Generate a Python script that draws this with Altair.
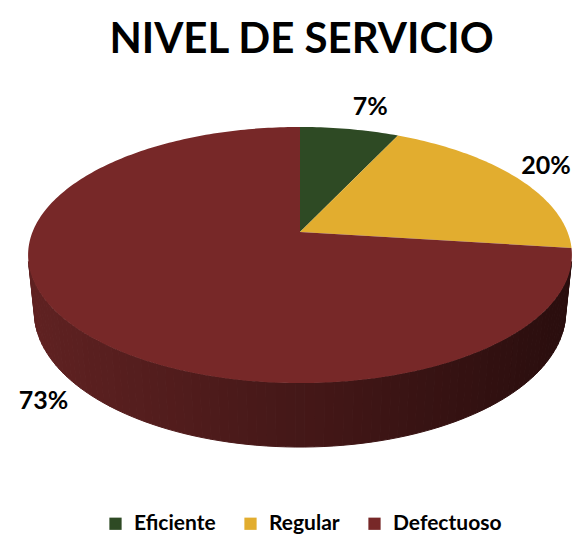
import numpy as np
import pandas as pd
import altair as alt

# ---- data ----
categories = ["Eficiente", "Regular", "Defectuoso"]
values = [7, 20, 73]
labels = ["7%", "20%", "73%"]
colors = ["#2E4A24", "#E2AD2F", "#772828"]
title_text = "NIVEL DE SERVICIO"

# ---- 3D perspective "projection" of a tilted disc (geometry, not data) ----
W, H = 566, 457
ELEV = np.radians(27.6)
CE, SE = np.cos(ELEV), np.sin(ELEV)
DIST = 4.931
FOCAL = 1319.0
DEPTH = 0.242
CX, CY = 292.0, 164.0  # apex position inside the plot area


def proj(x, y, z):
    d = DIST + y * CE - z * SE
    v = y * SE + z * CE
    return [float(CX + FOCAL * x / d), float(CY - FOCAL * v / d)]


def rim(phi, z=0.0, r=1.0):
    return proj(r * np.sin(phi), r * np.cos(phi), z)


total = float(sum(values))
bounds = np.concatenate([[0.0], np.cumsum(values) / total * 2 * np.pi])

# side wall (front visible part) split into narrow shaded strips
lim = np.arccos(-1.0 / (DIST * CE))
phis = np.linspace(lim, 2 * np.pi - lim, 90)
x_left, x_right = rim(2 * np.pi - lim)[0], rim(lim)[0]
c_left = np.array([96, 34, 34])
c_right = np.array([42, 14, 14])
side_rows = []
for a0, a1 in zip(phis[:-1], phis[1:]):
    ring = [rim(a0), rim(a1), rim(a1, -DEPTH), rim(a0, -DEPTH), rim(a0)]
    xm = 0.5 * (ring[0][0] + ring[1][0])
    t = np.clip((xm - x_left) / (x_right - x_left), 0, 1)
    col = (c_left * (1 - t) + c_right * t).astype(int)
    hexc = "#%02x%02x%02x" % tuple(col)
    side_rows.append({"type": "Feature",
                      "properties": {"shade": hexc},
                      "geometry": {"type": "Polygon", "coordinates": [ring]}})

top_rows = []
for cat, a0, a1 in zip(categories, bounds[:-1], bounds[1:]):
    n = max(4, int(np.degrees(a1 - a0)))
    arc = [rim(a) for a in np.linspace(a0, a1, n)]
    ring = [proj(0, 0, 0)] + arc + [proj(0, 0, 0)]
    top_rows.append({"type": "Feature",
                     "properties": {"cat": cat},
                     "geometry": {"type": "Polygon", "coordinates": [ring]}})

# labels: placed just outside the rim point at each slice's mid-angle
LABEL_SIZE = 25
lab = []
for txt, a0, a1 in zip(labels, bounds[:-1], bounds[1:]):
    m = 0.5 * (a0 + a1)
    z = -DEPTH if np.cos(m) < 0 else 0.0
    px, py = rim(m, z)
    hw = 6.5 * len(txt) + 4.5
    hh = 9.0
    gap = 14.0
    px += np.sign(np.sin(m)) * hw + np.sin(m) * gap
    py += -np.sign(np.cos(m)) * hh * abs(np.cos(m)) - np.cos(m) * gap
    px = min(max(px, hw + 3), W - hw - 4)
    lab.append({"lon": float(px), "lat": float(py), "label": txt})
lab_df = pd.DataFrame(lab)

PROJ = dict(type="identity", scale=1, translate=[0, 0])

side = alt.Chart(alt.Data(values=side_rows)).mark_geoshape(strokeWidth=1).encode(
    fill=alt.Fill("properties.shade:N", scale=None),
    stroke=alt.Stroke("properties.shade:N", scale=None),
).project(**PROJ)

top = alt.Chart(alt.Data(values=top_rows)).mark_geoshape(strokeWidth=0.6).encode(
    color=alt.Color(
        "properties.cat:N",
        scale=alt.Scale(domain=categories, range=colors),
        legend=alt.Legend(
            title=None, orient="none", direction="horizontal",
            legendX=97, legendY=445, padding=0,
            symbolType="square", symbolSize=150, symbolStrokeWidth=0,
            labelFont="Lato", labelFontWeight="bold", labelFontSize=21,
            labelColor="#000000", labelOffset=8, columnPadding=24,
        ),
    ),
).project(**PROJ)

text = alt.Chart(lab_df).mark_text(
    font="Lato", fontWeight="bold", fontSize=LABEL_SIZE, color="#000000",
    align="center", baseline="middle",
).encode(longitude="lon:Q", latitude="lat:Q", text="label:N").project(**PROJ)

title = alt.Chart(pd.DataFrame({"t": [title_text]})).mark_text(
    font="Lato", fontWeight="bold", fontSize=42, color="#000000",
    align="center", baseline="alphabetic",
).encode(x=alt.value(293.5), y=alt.value(-15), text="t:N")

chart = alt.layer(side, top, text, title).properties(
    width=W, height=H,
    padding={"top": 60, "left": 0, "right": 0, "bottom": 10},
    autosize=alt.AutoSizeParams(type="none"),
).configure_view(stroke=None)

chart.save("out.html", embed_options={"renderer": "svg", "actions": False})
